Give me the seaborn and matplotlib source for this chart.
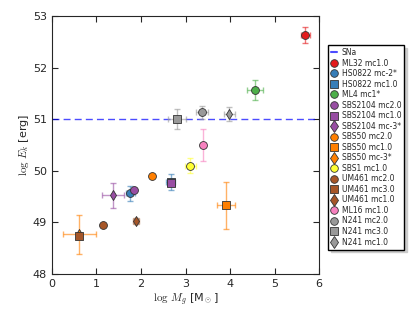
import numpy as np
import pandas as pd
import seaborn as sns
import matplotlib.pyplot as plt
from matplotlib.lines import Line2D

# data
names = ["ML32 mc1.0", "HS0822 mc-2*", "HS0822 mc1.0", "ML4 mc1*",
         "SBS2104 mc2.0", "SBS2104 mc1.0", "SBS2104 mc-3*",
         "SBS50 mc2.0", "SBS50 mc1.0", "SBS50 mc-3*", "SBS1 mc1.0",
         "UM461 mc2.0", "UM461 mc3.0", "UM461 mc1.0", "ML16 mc1.0",
         "N241 mc2.0", "N241 mc3.0", "N241 mc1.0"]
log_mg = [5.69, 1.76, 2.67, 4.56, 1.84, 2.67, 1.37, 2.24, 3.91, 0.62, 3.11,
          1.15, 0.60, 1.89, 3.40, 3.37, 2.81, 3.98]
log_ek = [52.63, 49.56, 49.78, 51.56, 49.62, 49.76, 49.52, 49.89, 49.33, 48.77,
          50.10, 48.95, 48.73, 49.03, 50.49, 51.13, 51.00, 51.10]
err_mg = [0.10, 0.10, 0.10, 0.18, 0.0, 0.0, 0.25, 0.0, 0.20, 0.37, 0.13,
          0.0, 0.0, 0.06, 0.05, 0.13, 0.20, 0.12]
err_ek = [0.15, 0.15, 0.15, 0.19, 0.0, 0.0, 0.25, 0.0, 0.46, 0.38, 0.15,
          0.0, 0.0, 0.06, 0.31, 0.12, 0.20, 0.13]
colors = ["#e41a1c", "#377eb8", "#377eb8", "#4daf4a", "#984ea3", "#984ea3",
          "#984ea3", "#ff7f00", "#ff7f00", "#ff7f00", "#ffff33", "#a65628",
          "#a65628", "#a65628", "#f781bf", "#999999", "#999999", "#999999"]
markers = ["o", "o", "s", "o", "o", "s", "d", "o", "s", "d", "o", "o", "s",
           "d", "o", "o", "s", "d"]
sna_level = 51.0

df = pd.DataFrame({"name": names, "x": log_mg, "y": log_ek,
                   "xerr": err_mg, "yerr": err_ek})

sns.set_style("ticks")
plt.rcParams["mathtext.fontset"] = "cm"
fig = plt.figure(figsize=(4.15, 3.12), dpi=100)
ax = fig.add_axes([0.125, 0.122, 0.644, 0.827])

ax.axhline(sna_level, color="blue", ls="--", lw=1, alpha=0.7, dashes=(5, 3))

sizes = {"o": 32, "s": 32, "d": 26}
for i, row in df.iterrows():
    if row.xerr > 0 or row.yerr > 0:
        ax.errorbar(row.x, row.y, xerr=row.xerr, yerr=row.yerr, fmt="none",
                    ecolor=colors[i], alpha=0.6, capsize=2, elinewidth=1,
                    zorder=2 + i * 0.01)
    sns.scatterplot(x=[row.x], y=[row.y], marker=markers[i], color=colors[i],
                    s=sizes[markers[i]], edgecolor="#333333",
                    linewidth=0.6, ax=ax, zorder=3 + i * 0.01, legend=False)

ax.set_xlim(0, 6)
ax.set_ylim(48, 53)
ax.set_xticks(range(0, 7))
ax.set_yticks(range(48, 54))
ax.tick_params(direction="in", top=True, right=True, labelsize=8, length=4)
for s in ax.spines.values():
    s.set_visible(True)
    s.set_linewidth(0.8)
ax.set_xlabel(r"$\mathrm{log}\ M_g$ [M$_\odot$]", fontsize=8, labelpad=2)
ax.set_ylabel(r"$\mathrm{log}\ E_k$ [erg]", fontsize=8, labelpad=1)

handles = [Line2D([], [], color="blue", ls="-", lw=1.5, alpha=0.7)]
handles += [Line2D([], [], ls="none", marker=m, color=c,
                   markersize=5.5 if m != "d" else 6,
                   markeredgecolor="#333333", markeredgewidth=0.6)
            for m, c in zip(markers, colors)]
ax.legend(handles, ["SNa"] + names, loc="upper left",
          bbox_to_anchor=(328 / 415, 1 - 45 / 312),
          bbox_transform=fig.transFigure, fontsize=5.5, frameon=True,
          shadow={"color": "0.8", "alpha": 1}, fancybox=False,
          edgecolor="black", handlelength=0.8,
          handletextpad=0.6, labelspacing=0.2, borderpad=0.4,
          borderaxespad=0)

fig.savefig("out.png", dpi=100)
